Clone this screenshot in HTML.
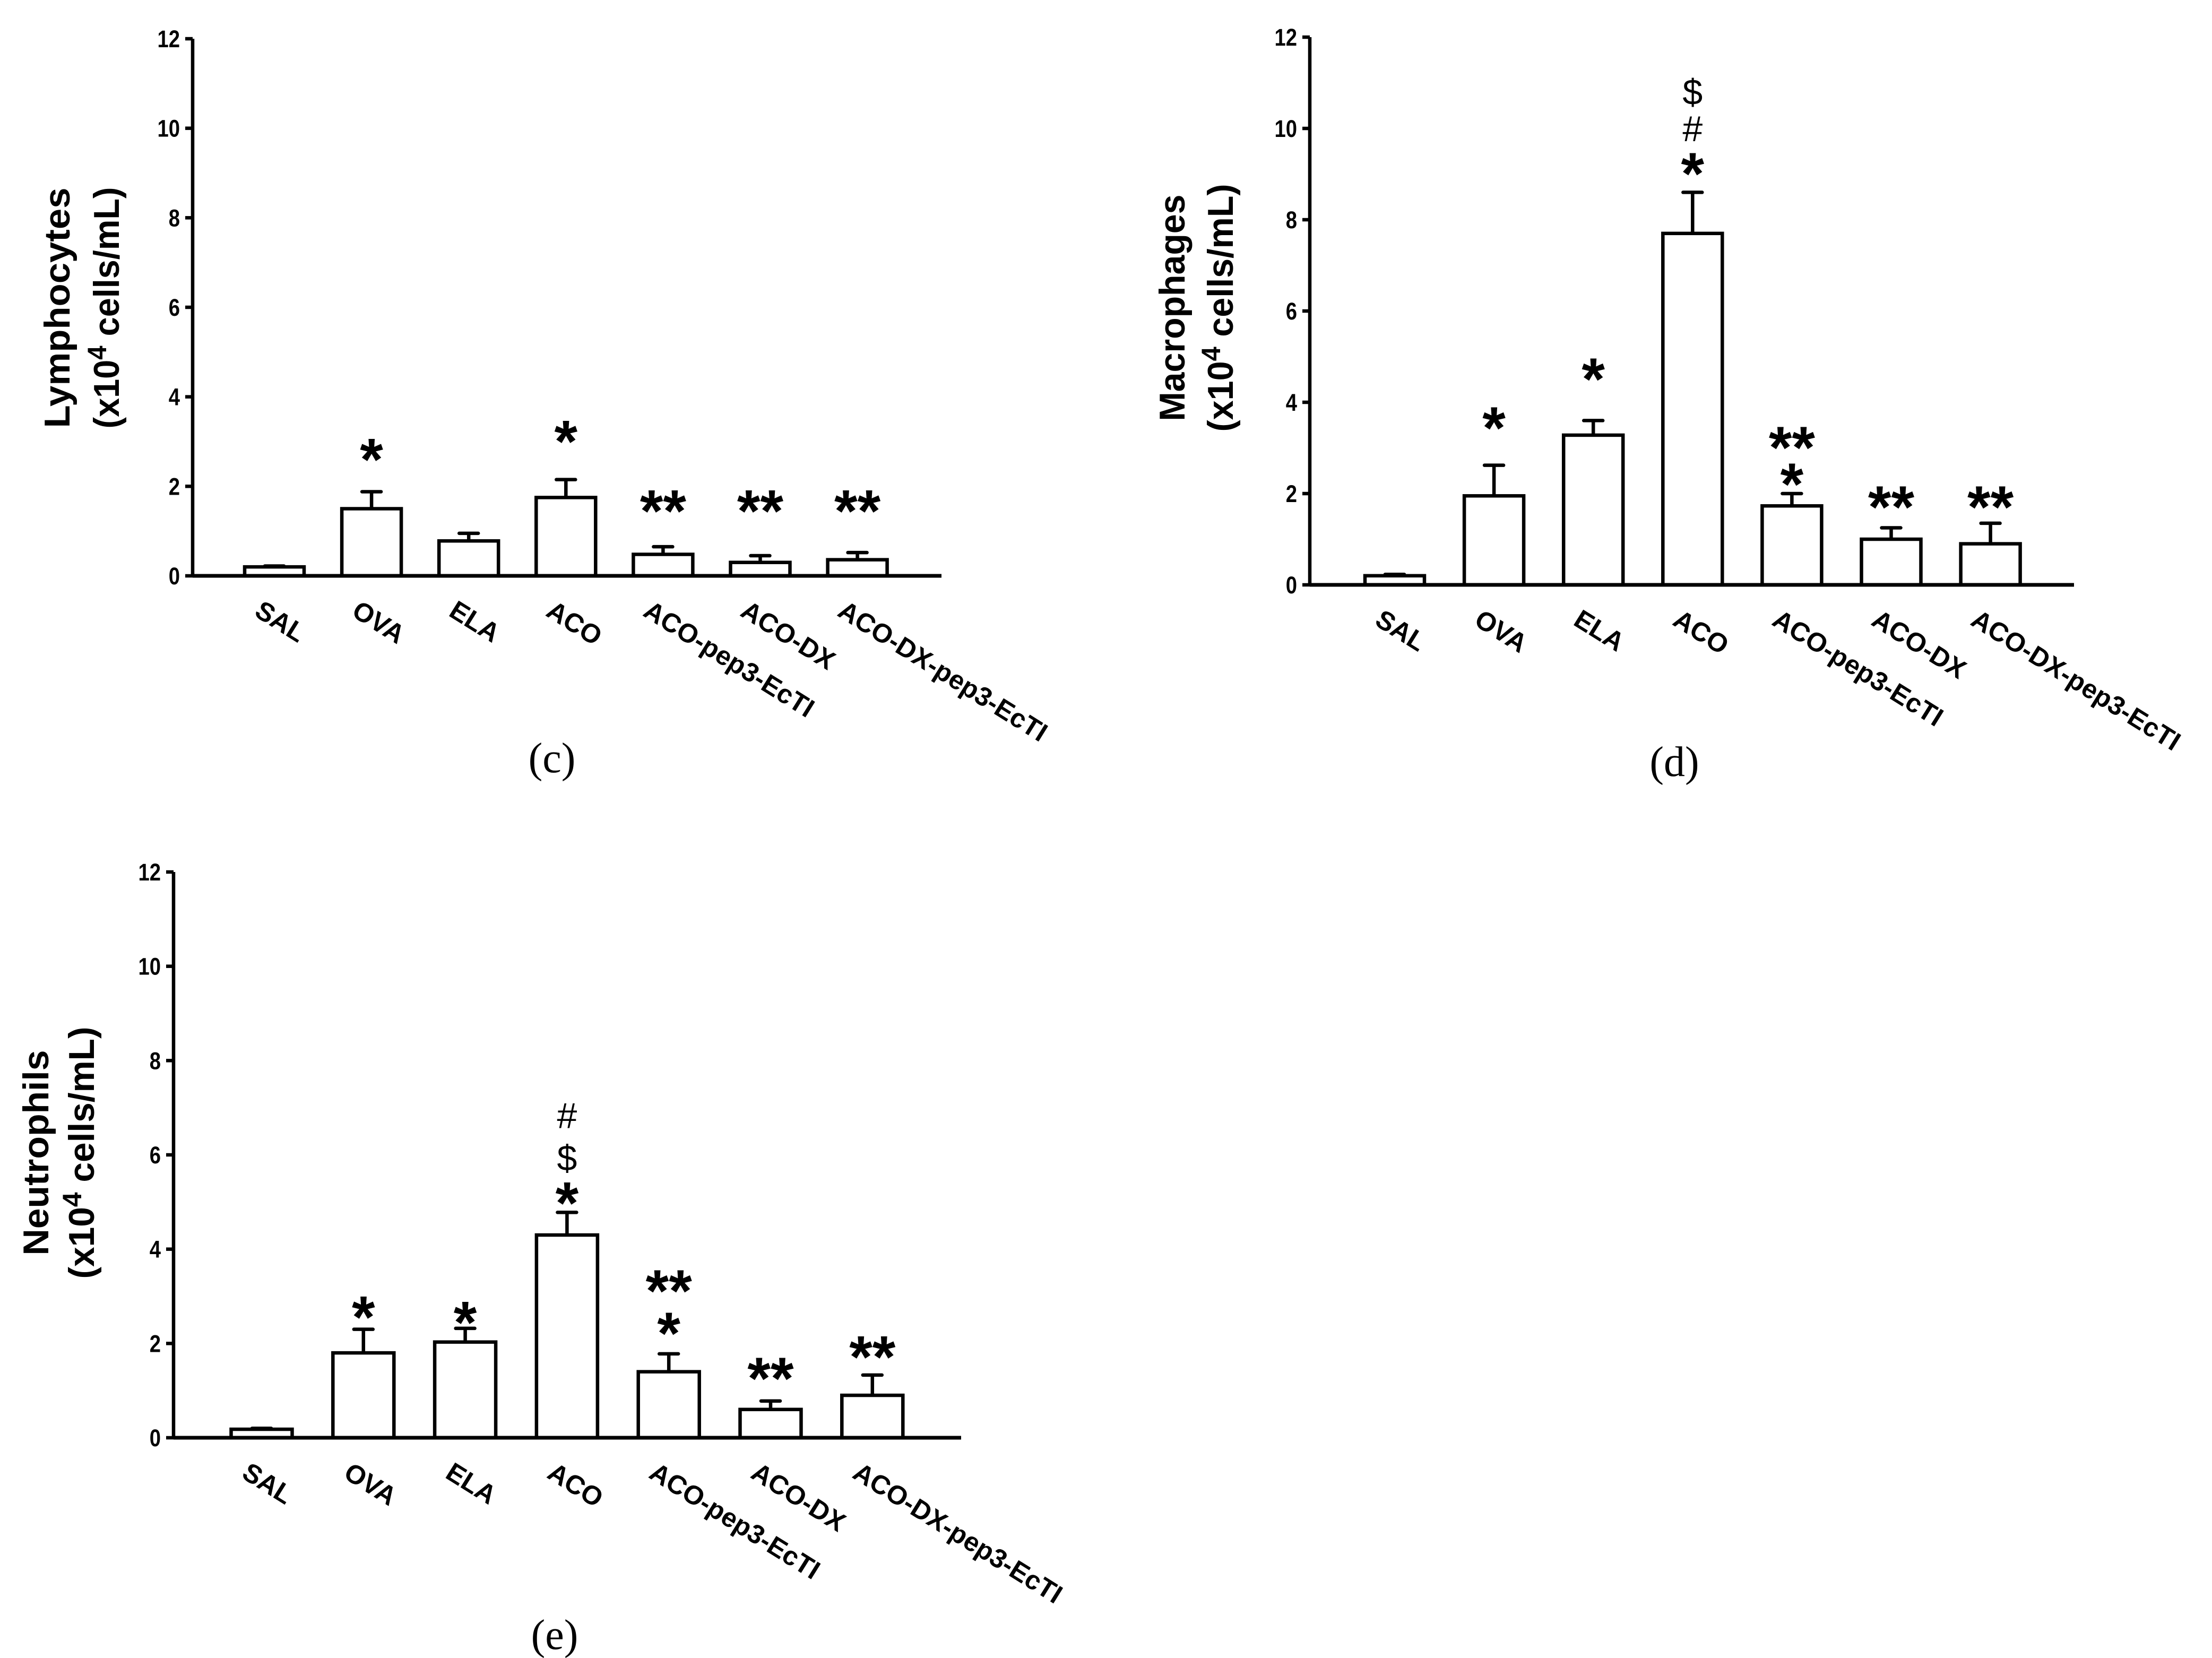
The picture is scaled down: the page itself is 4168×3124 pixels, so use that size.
<!DOCTYPE html>
<html><head><meta charset="utf-8"><style>
html,body{margin:0;padding:0;background:#fff;}
svg{display:block;}
text{font-family:"Liberation Sans",sans-serif;fill:#000;}
</style></head><body>
<svg id="fig" width="4168" height="3124" viewBox="0 0 4168 3124" xmlns="http://www.w3.org/2000/svg">
<rect width="4168" height="3124" fill="#fff"/>
</svg>
<script>
const categories = ["SAL","OVA","ELA","ACO","ACO-pep3-EcTI","ACO-DX","ACO-DX-pep3-EcTI"];
const yTicks = [0,2,4,6,8,10,12];
// Panel c - Lymphocytes
const lymphMeans = [0.2,1.5,0.78,1.75,0.48,0.3,0.36];
const lymphErr   = [0.22,1.88,0.95,2.15,0.65,0.45,0.52];
const lymphMarks = [[],[["*",2.9]],[],[["*",3.3]],[["**",1.75]],[["**",1.75]],[["**",1.75]]];
// Panel d - Macrophages
const macroMeans = [0.2,1.95,3.28,7.7,1.73,1.0,0.9];
const macroErr   = [0.23,2.62,3.6,8.6,2.0,1.25,1.35];
const macroMarks = [[],[["*",3.73]],[["*",4.8]],[["*",9.3],["#",10.0],["$",10.8]],[["*",2.5],["**",3.3]],[["**",2.0]],[["**",2.0]]];
// Panel e - Neutrophils
const neutMeans = [0.18,1.8,2.03,4.3,1.4,0.6,0.9];
const neutErr   = [0.2,2.3,2.32,4.78,1.78,0.78,1.33];
const neutMarks = [[],[["*",2.84]],[["*",2.73]],[["*",5.26],["$",5.94],["#",6.84]],[["*",2.5],["**",3.4]],[["**",1.54]],[["**",2.0]]];

const NS="http://www.w3.org/2000/svg";
const svg=document.getElementById('fig');
function mk(tag,attrs,parent,txt){const e=document.createElementNS(NS,tag);for(const k in attrs)e.setAttribute(k,attrs[k]);if(txt!==undefined)e.textContent=txt;(parent||svg).appendChild(e);return e;}

const panels=[
 {id:"c",means:lymphMeans,err:lymphErr,marks:lymphMarks,ax:363,y0:1085,y12:73,c0:517,step:183.1,bw:112,xend:1774,
  t1:"Lymphocytes",t2x:200,t1x:107,ty:580,l1:453,l2:455,lab:"(c)",lx:1040,ly:1455},
 {id:"d",means:macroMeans,err:macroErr,marks:macroMarks,ax:2468,y0:1102,y12:70,c0:2628,step:187.1,bw:112,xend:3908,
  t1:"Macrophages",t2x:2299,t1x:2208,ty:580,l1:427,l2:467,lab:"(d)",lx:3155,ly:1462},
 {id:"e",means:neutMeans,err:neutErr,marks:neutMarks,ax:327,y0:2709,y12:1643,c0:493,step:191.8,bw:115,xend:1811,
  t1:"Neutrophils",t2x:153,t1x:67,ty:2172,l1:387,l2:475,lab:"(e)",lx:1045,ly:3107}
];

panels.forEach(p=>{
  const g=mk('g',{});
  
  
  const y=v=>p.y0-(p.y0-p.y12)*v/12;
  const x=i=>p.c0+p.step*i;
  const ya=mk('line',{x1:p.ax,y1:p.y12,x2:p.ax,y2:p.y0,stroke:"#000","stroke-width":6.5},g);
  
  
  yTicks.forEach(t=>{
    const tk=mk('line',{x1:p.ax-14,y1:y(t),x2:p.ax,y2:y(t),stroke:"#000","stroke-width":6.5},g);
    
    
    const tl=mk('text',{transform:`translate(${p.ax-24},${y(t)+16}) scale(0.85,1)`,"text-anchor":"end","font-size":45,"font-weight":"bold"},g,String(t));
    
    
  });
  const tt=mk('text',{transform:`translate(${p.t1x+24},${p.ty}) rotate(-90)`,"text-anchor":"middle","font-size":68,"font-weight":"bold",textLength:p.l1,lengthAdjust:"spacingAndGlyphs"},g,p.t1);
  
  
  const t2=mk('text',{transform:`translate(${p.t2x+24},${p.ty}) rotate(-90)`,"text-anchor":"middle","font-size":68,"font-weight":"bold",textLength:p.l2,lengthAdjust:"spacingAndGlyphs"},g);
  
  
  mk('tspan',{},t2,"(x10");
  mk('tspan',{dy:-24,"font-size":50},t2,"4");
  mk('tspan',{dy:24},t2," cells/mL)");
  p.means.forEach((m,i)=>{
    const cx=x(i);
    const eb=mk('path',{d:`M${cx},${y(m)}V${y(p.err[i])}M${cx-18},${y(p.err[i])}H${cx+18}`,stroke:"#000","stroke-width":6.5,fill:"none","stroke-linecap":"round"},g);
    
    
    const b=mk('rect',{x:cx-p.bw/2,y:y(m),width:p.bw,height:p.y0-y(m),fill:"#fff",stroke:"#000","stroke-width":6.5},g);
    
    
    p.marks[i].forEach(mm=>{
      const s=mm[0],v=mm[1];
      let t;
      if(s[0]==="*") t=mk('text',{x:cx,y:y(v)+64,"text-anchor":"middle","font-size":112,"font-weight":"bold"},g,s);
      else t=mk('text',{x:cx,y:y(v)+24,"text-anchor":"middle","font-size":68},g,s);
      
      
    });
    const cl=mk('text',{transform:`translate(${cx-40},${p.y0+74}) rotate(32)`,"font-size":50,"font-weight":"bold"},g,categories[i]);
    
    
  });
  const xa=mk('line',{x1:p.ax,y1:p.y0,x2:p.xend,y2:p.y0,stroke:"#000","stroke-width":7},g);
  
  
  const pl=mk('text',{x:p.lx,y:p.ly,"text-anchor":"middle","font-size":80,style:'font-family:"Liberation Serif",serif'},g,p.lab);
  
  
});
</script>
</body></html>
